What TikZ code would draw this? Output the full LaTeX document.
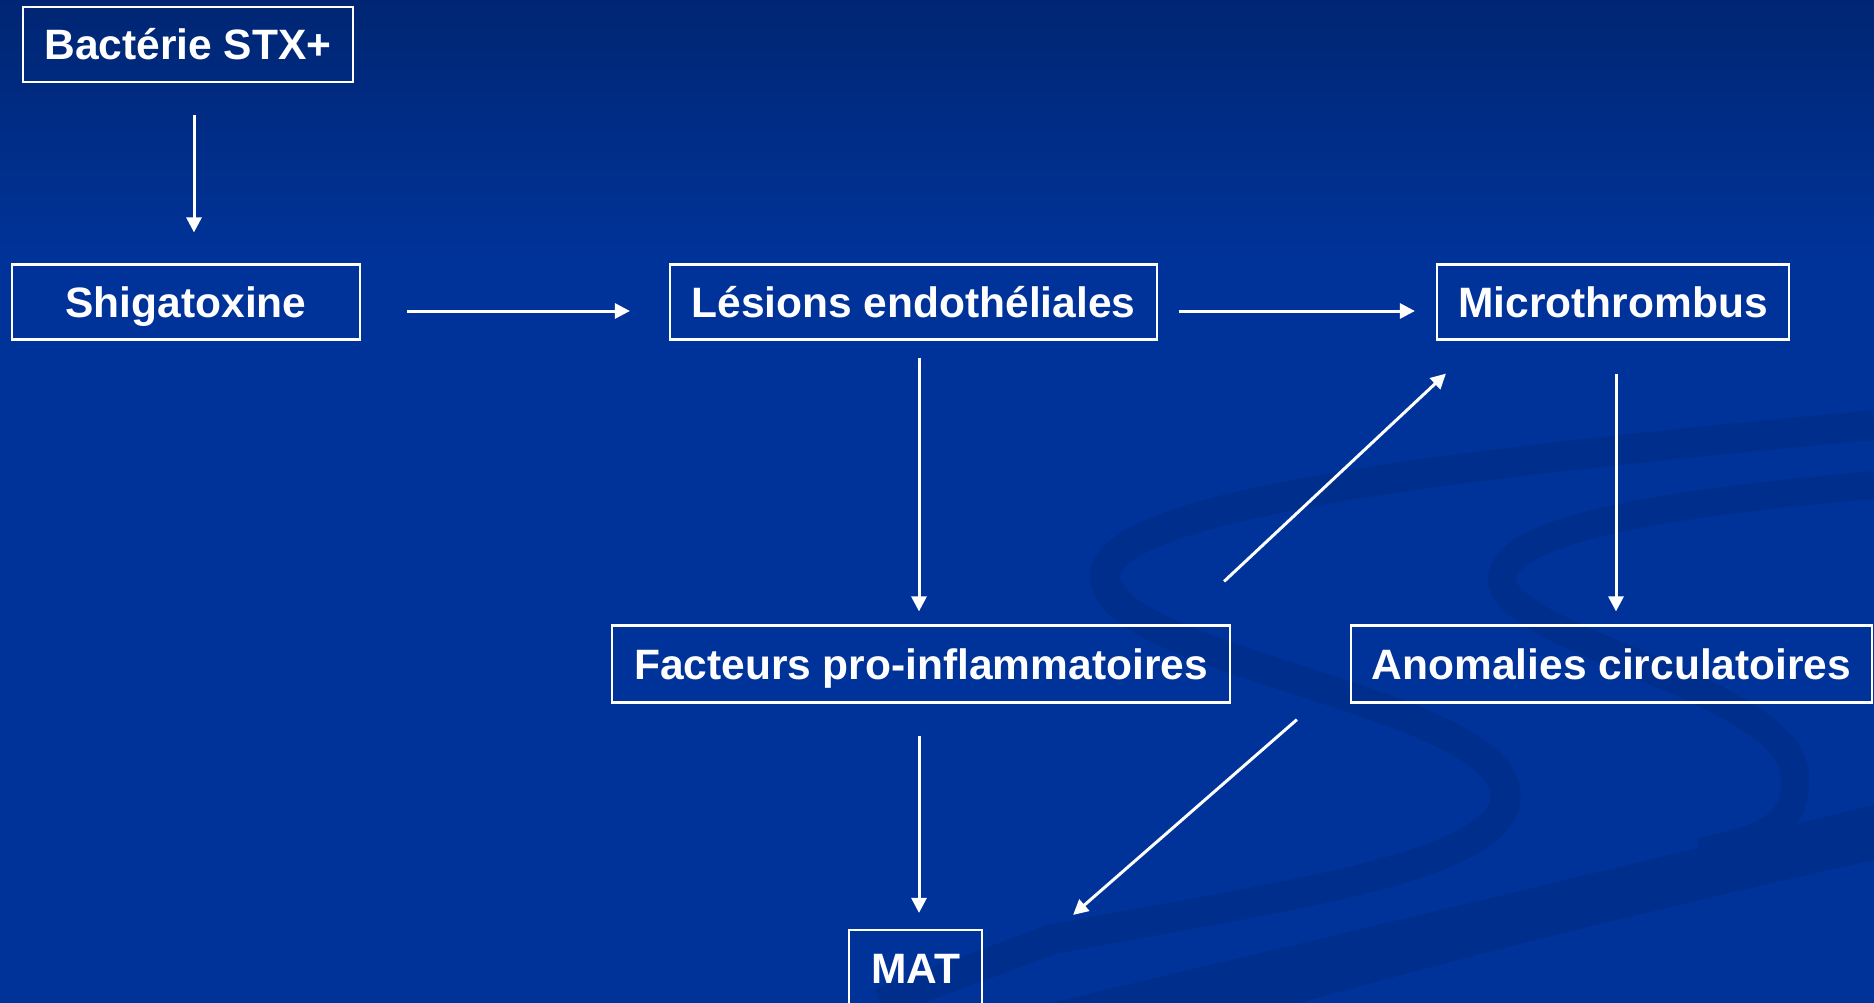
\documentclass[tikz,border=0pt]{standalone}
\usepackage{fontspec}
\setmainfont{Liberation Sans}
\usetikzlibrary{arrows.meta}

\definecolor{bgblue}{RGB}{0,51,153}
\definecolor{bgtop}{RGB}{0,38,115}
\definecolor{swirl}{RGB}{0,46,140}

\begin{document}
\begin{tikzpicture}[x=1pt, y=-1pt,
		box/.style={draw=white, line width=2.2pt, minimum height=75pt, text=white,
			text height=31pt, text depth=0pt,
			font=\fontsize{42.5}{50}\selectfont\bfseries},
		arr/.style={white, line width=3pt, -{Triangle[length=15pt, width=15pt]}}]

		% Background
		\useasboundingbox (0,0) rectangle (1874,1003);
		\fill[bgblue] (0,0) rectangle (1874,1003);
		\shade[top color=bgtop, bottom color=bgblue] (0,0) rectangle (1874,260);

		% Swirls (darker blue)
		\draw[swirl, line width=30pt]
			(1874,425) .. controls (1500,460) and (1100,500) .. (1105,578)
			.. controls (1110,660) and (1490,700) .. (1505,790)
			.. controls (1520,870) and (1250,900) .. (1050,940) -- (880,1003);
		\draw[swirl, line width=28pt]
			(1874,485) .. controls (1700,500) and (1500,525) .. (1502,580)
			.. controls (1505,640) and (1790,690) .. (1795,775)
			.. controls (1798,830) and (1760,838) .. (1700,852);
		\fill[swirl] (1050,1003) .. controls (1400,920) and (1650,860) .. (1874,805)
			-- (1874,860) .. controls (1650,910) and (1450,960) .. (1300,1003) -- cycle;

		% Boxes
		\node[box, minimum width=330pt] (bact) at (188,44.5) {Bactérie STX+};
		\node[box, minimum width=348pt] (shig) at (186,302) {Shigatoxine};
		\node[box, minimum width=487pt] (les) at (913.5,302) {Lésions endothéliales};
		\node[box, minimum width=352pt] (micro) at (1613,302) {Microthrombus};
		\node[box, minimum width=618pt, minimum height=77pt] (fact) at (921,664) {Facteurs pro-inflammatoires};
		\node[box, minimum width=521pt, minimum height=77pt] (anom) at (1611.5,664) {Anomalies circulatoires};
		\node[box, minimum width=133pt] (mat) at (915.5,967.5) {MAT};

		% Straight arrows
		\draw[arr, shorten <=32pt, shorten >=31pt] ([xshift=6pt]bact.south) -- ([xshift=6pt]bact.south |- shig.north);
		\draw[arr, shorten <=46pt, shorten >=39pt] ([yshift=-9pt]shig.east) -- ([yshift=-9pt]shig.east -| les.west);
		\draw[arr, shorten <=21pt, shorten >=21pt] ([yshift=-9pt]les.east) -- ([yshift=-9pt]les.east -| micro.west);
		\draw[arr, shorten <=17pt, shorten >=13pt] ([xshift=5.5pt]les.south) -- ([xshift=5.5pt]les.south |- fact.north);
		\draw[arr, shorten <=33pt, shorten >=13pt] ([xshift=3pt]micro.south) -- ([xshift=3pt]micro.south |- anom.north);
		\draw[arr, shorten <=32pt, shorten >=16pt] ([xshift=-2pt]fact.south) -- ([xshift=-2pt]fact.south |- mat.north);

		% Diagonal arrows
		\draw[arr] ([shift={(-7pt,43pt)}]fact.north east) -- ([shift={(10pt,-33pt)}]micro.south west);
		\draw[arr] ([shift={(-53pt,-16pt)}]anom.south west) -- ([shift={(90pt,14pt)}]mat.north east);

	\end{tikzpicture}
\end{document}
